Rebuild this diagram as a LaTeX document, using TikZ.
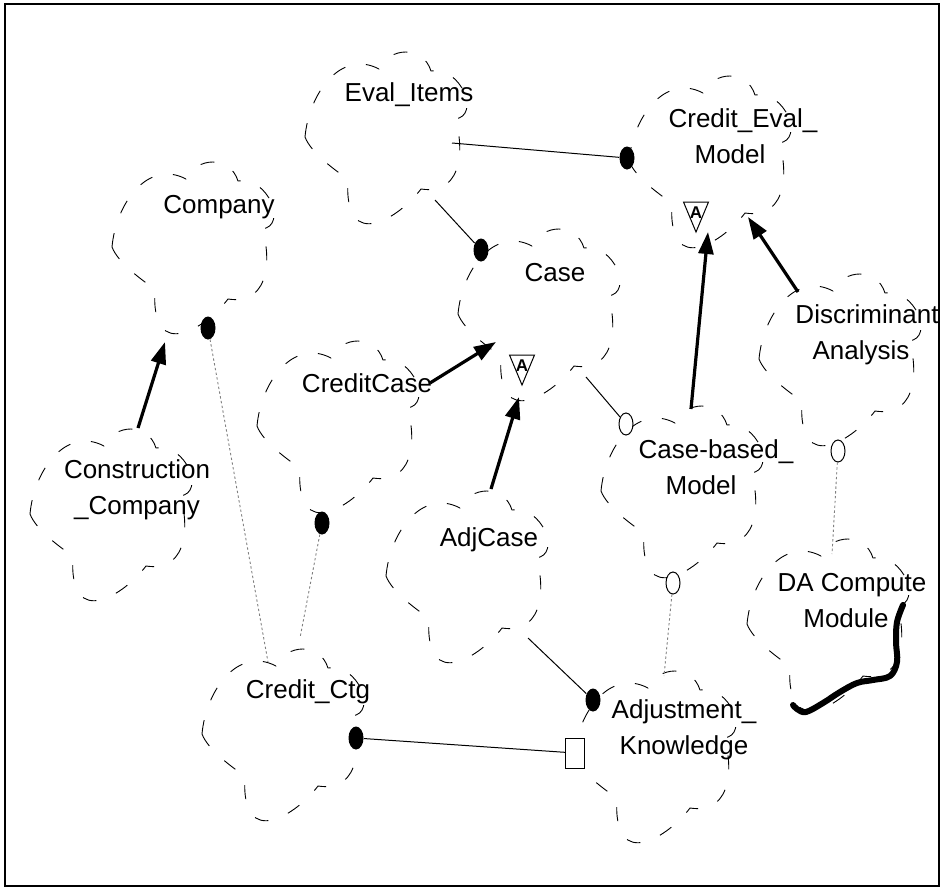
\documentclass[tikz,border=0pt]{standalone}
\usepackage{fontspec}
\setmainfont{Liberation Sans}
\usetikzlibrary{arrows.meta,shapes.geometric}
\tikzset{
  cloud-line/.style={draw=black, line width=0.45pt, dash pattern=on 7pt off 10.5pt},
  class-name/.style={font=\fontsize{13}{18}\selectfont, align=center, inner sep=0pt},
  assoc/.style={draw=black, line width=0.5pt},
  uses-line/.style={draw=black!50, line width=0.45pt, dash pattern=on 1.2pt off 1.2pt},
  inherit/.style={draw=black, line width=1.6pt, -{Triangle[length=11pt,width=7.5pt]}},
  has-dot/.style={ellipse, fill=black, minimum width=7.5pt, minimum height=11.5pt, inner sep=0pt},
  uses-ring/.style={ellipse, draw=black, line width=0.5pt, fill=white, minimum width=7pt, minimum height=11pt, inner sep=0pt},
  key-box/.style={rectangle, draw=black, line width=0.5pt, fill=white, minimum width=9.5pt, minimum height=15pt, inner sep=0pt},
  abstract-tag/.style={font=\fontsize{8.5}{8.5}\selectfont\bfseries, inner sep=0pt},
  squiggle/.style={line width=3pt, line cap=round, line join=round},
  frame/.style={line width=1.3pt}
}
\newcommand{\classcloud}[2]{
  \coordinate (#1) at (#2);
  \draw[cloud-line, shift={(#2)}] (-76,-4)
    .. controls (-72,-48) and (-40,-92) .. (-2,-72)
    .. controls (8,-94) and (42,-96) .. (50,-70)
    .. controls (80,-75) and (100,-25) .. (74,-22)
    .. controls (82,0) and (85,55) .. (40,48)
    .. controls (20,75) and (-38,115) .. (-33,38)
    .. controls (-45,30) and (-70,12) .. cycle;
}
\newcommand{\abstractmark}[2]{
  \draw[assoc, shift={(#2)}] (-12.5,-15) -- (12.5,-15) -- (0,15) -- cycle;
  \node[abstract-tag, shift={(#2)}] (#1) at (0,-4) {A};
}

\begin{document}
\begin{tikzpicture}[x=0.5pt, y=-0.5pt]
  \useasboundingbox (0,0) rectangle (942,889);
  \draw[frame] (5,4) rectangle (939,886);
  % Class clouds
  \classcloud{company}{188,251}
  \classcloud{eval}{381,141}
  \classcloud{cem}{705,165}
  \classcloud{case}{534,318}
  \classcloud{ccase}{333,430}
  \classcloud{cons}{106,518}
  \classcloud{adj}{462,580}
  \classcloud{cbm}{677,495}
  \classcloud{da}{835,363}
  \classcloud{dacm}{823,628}
  \classcloud{adjk}{650,760}
  \classcloud{ctg}{278,738}
  % Class names
  \node[class-name] (company-name) at (219,207) {Company};
  \node[class-name] (eval-name) at (409,95) {Eval\_Items};
  \node[class-name] (cem-name) at (743,136) {Credit\_Eval\_\\Model\kern13pt};
  \node[class-name] (case-name) at (555,273) {Case};
  \node[class-name] (ccase-name) at (367,383) {CreditCase};
  \node[class-name] (cons-name) at (137,490) {Construction\\\_Company};
  \node[class-name] (adj-name) at (489,540) {AdjCase};
  \node[class-name] (cbm-name) at (716,467) {Case-based\_\\Model\kern15pt};
  \node[class-name] (da-name) at (867,335) {Discriminant\\Analysis\kern6pt};
  \node[class-name] (dacm-name) at (852,601) {DA Compute\\Module\kern6pt};
  \node[class-name] (adjk-name) at (684,730) {Adjustment\_\\Knowledge};
  \node[class-name] (ctg-name) at (308,692) {Credit\_Ctg};
  % Abstract marks
  \abstractmark{cem-abs}{696,217}
  \abstractmark{case-abs}{522,370}
  % Adornments
  \node[has-dot] (cem-has) at (627,158) {};
  \node[has-dot] (case-has) at (481,250) {};
  \node[has-dot] (company-has) at (208,328) {};
  \node[has-dot] (ccase-has) at (322,523) {};
  \node[has-dot] (adjk-has) at (593,700) {};
  \node[has-dot] (ctg-has) at (356,738) {};
  \node[uses-ring] (cbm-use) at (626,424) {};
  \node[uses-ring] (cbm-ring) at (673,583) {};
  \node[uses-ring] (da-ring) at (838,451) {};
  \node[key-box] (adjk-key) at (575,753) {};
  % Connector ends on the clouds
  \coordinate (eval-east) at (452,143);
  \coordinate (eval-south) at (435,200);
  \coordinate (case-south) at (586,377);
  \coordinate (adj-south) at (528,638);
  \coordinate (ctg-top1) at (268,662);
  \coordinate (ctg-top2) at (300,638);
  \coordinate (adjk-top) at (664,676);
  \coordinate (dacm-top) at (832,554);
  \coordinate (cons-top) at (138,428);
  \coordinate (company-foot) at (165,342);
  \coordinate (ccase-east) at (430,383);
  \coordinate (case-west) at (496,342);
  \coordinate (adj-top) at (491,489);
  \coordinate (case-foot) at (519,397);
  \coordinate (cbm-top) at (691,409);
  \coordinate (cem-foot) at (708,232);
  \coordinate (da-top) at (798,292);
  \coordinate (cem-east) at (748,217);
  % Associations
  \draw[assoc] (eval-east) -- (cem-has);
  \draw[assoc] (eval-south) -- (case-has);
  \draw[assoc] (case-south) -- (cbm-use);
  \draw[assoc] (adj-south) -- (adjk-has);
  \draw[assoc] (ctg-has) -- (adjk-key);
  % Uses
  \draw[uses-line] (company-has) -- (ctg-top1);
  \draw[uses-line] (ccase-has) -- (ctg-top2);
  \draw[uses-line] (cbm-ring) -- (adjk-top);
  \draw[uses-line] (da-ring) -- (dacm-top);
  % Inheritance
  \draw[inherit] (cons-top) -- (company-foot);
  \draw[inherit] (ccase-east) -- (case-west);
  \draw[inherit] (adj-top) -- (case-foot);
  \draw[inherit] (cbm-top) -- (cem-foot);
  \draw[inherit] (da-top) -- (cem-east);
  % Hand-drawn stroke
  \draw[squiggle] plot[smooth, tension=0.6] coordinates {(903,605) (897,622) (896,642) (897,662) (890,676) (873,680) (857,683) (840,692) (823,703) (806,712) (797,709) (793,705)};
\end{tikzpicture}
\end{document}
